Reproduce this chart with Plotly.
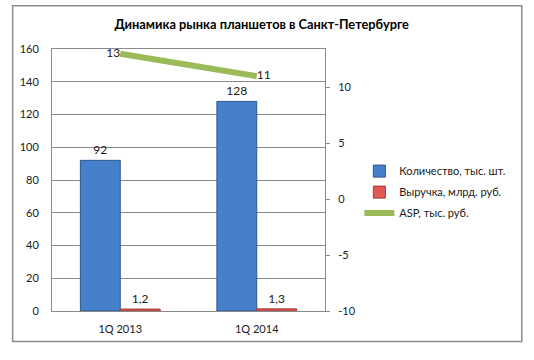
import plotly.graph_objects as go

categories = ["1Q 2013", "1Q 2014"]
quantity = [92, 128]          # Количество, тыс. шт.
revenue = [1.2, 1.3]          # Выручка, млрд. руб.
asp = [13, 11]                # ASP, тыс. руб.
left_ticks = [0, 20, 40, 60, 80, 100, 120, 140, 160]
right_ticks = [-10, -5, 0, 5, 10]
right_tick_labels = ["-10", "-5", "0", "5", "10"]

FONT = "Lato"
GRID = "#8a8a8a"
TXT = "#1a1a1a"

fig = go.Figure()
fig.add_trace(go.Bar(
    x=categories, y=quantity, name="Количество, тыс. шт.",
    marker=dict(color="#4680CB", line=dict(color="#2C5890", width=1)),
    text=[str(v) for v in quantity], textposition="outside",
    textfont=dict(size=12, color=TXT, family=FONT), cliponaxis=False,
    legendgroup="a",
))
fig.add_trace(go.Bar(
    x=categories, y=revenue, name="Выручка, млрд. руб.",
    marker=dict(color="#E05753", line=dict(color="#9E3B38", width=1)),
    texttemplate="%{y:.1f}", textposition="outside",
    textfont=dict(size=12, color=TXT, family=FONT), cliponaxis=False,
    legendgroup="b",
))
fig.add_trace(go.Scatter(
    x=categories, y=asp, name="ASP, тыс. руб.", yaxis="y2",
    mode="lines+text", line=dict(color="#9BBB59", width=6),
    text=[str(v) for v in asp], textposition=["middle left", "middle right"],
    textfont=dict(size=12, color=TXT, family=FONT), cliponaxis=False,
    legendgroup="c",
))

l, r, t, b = 51.5, 208.5, 49.3, 48.5
W, H = 534, 360
pw, ph = W - l - r, H - t - b

def px(x):
    return (x - l) / pw

def py(y):
    return (H - b - y) / ph

fig.update_layout(
    width=W, height=H,
    margin=dict(l=l, r=r, t=t, b=b, pad=0, autoexpand=False),
    paper_bgcolor="white", plot_bgcolor="white",
    separators=", ",
    font=dict(family=FONT, size=11, color=TXT),
    title=dict(text="<b>Динамика рынка планшетов в Санкт-Петербурге</b>",
               x=0.49, xanchor="center", y=1 - 25 / H, yanchor="middle",
               font=dict(family=FONT, size=12.8, color="#000")),
    barmode="group", bargap=0.416, bargroupgap=0,
    showlegend=True,
    legend=dict(x=px(360), xanchor="left", y=py(157), yanchor="top",
                font=dict(size=11, family=FONT, color=TXT),
                traceorder="grouped", tracegroupgap=2,
                bgcolor="rgba(0,0,0,0)", itemwidth=30),
    xaxis=dict(type="category", showline=True, linecolor=GRID, mirror=True,
               showgrid=False, ticks="", ticklabelstandoff=8,
               tickfont=dict(size=11, family=FONT, color=TXT)),
    yaxis=dict(range=[0, 160], tickvals=left_ticks, showgrid=True, gridcolor=GRID,
               gridwidth=1, showline=True, linecolor=GRID, zeroline=False,
               ticks="", ticklabelstandoff=10,
               tickfont=dict(size=11, family=FONT, color=TXT)),
    yaxis2=dict(range=[-10, 13.43], tickvals=right_ticks, ticktext=right_tick_labels,
                overlaying="y", side="right",
                showgrid=False, zeroline=False, showline=True, linecolor=GRID,
                ticks="outside", ticklen=4, tickcolor=GRID, ticklabelstandoff=6,
                tickfont=dict(size=11, family=FONT, color=TXT)),
    shapes=[dict(type="rect", xref="paper", yref="paper",
                 x0=px(12), x1=px(523), y0=py(342), y1=py(6),
                 line=dict(color="#8c8c8c", width=1.5), fillcolor="rgba(0,0,0,0)",
                 layer="below")],
)

fig.write_html("out.html", config={"displayModeBar": False},
               post_script="document.body.style.margin='0';")
